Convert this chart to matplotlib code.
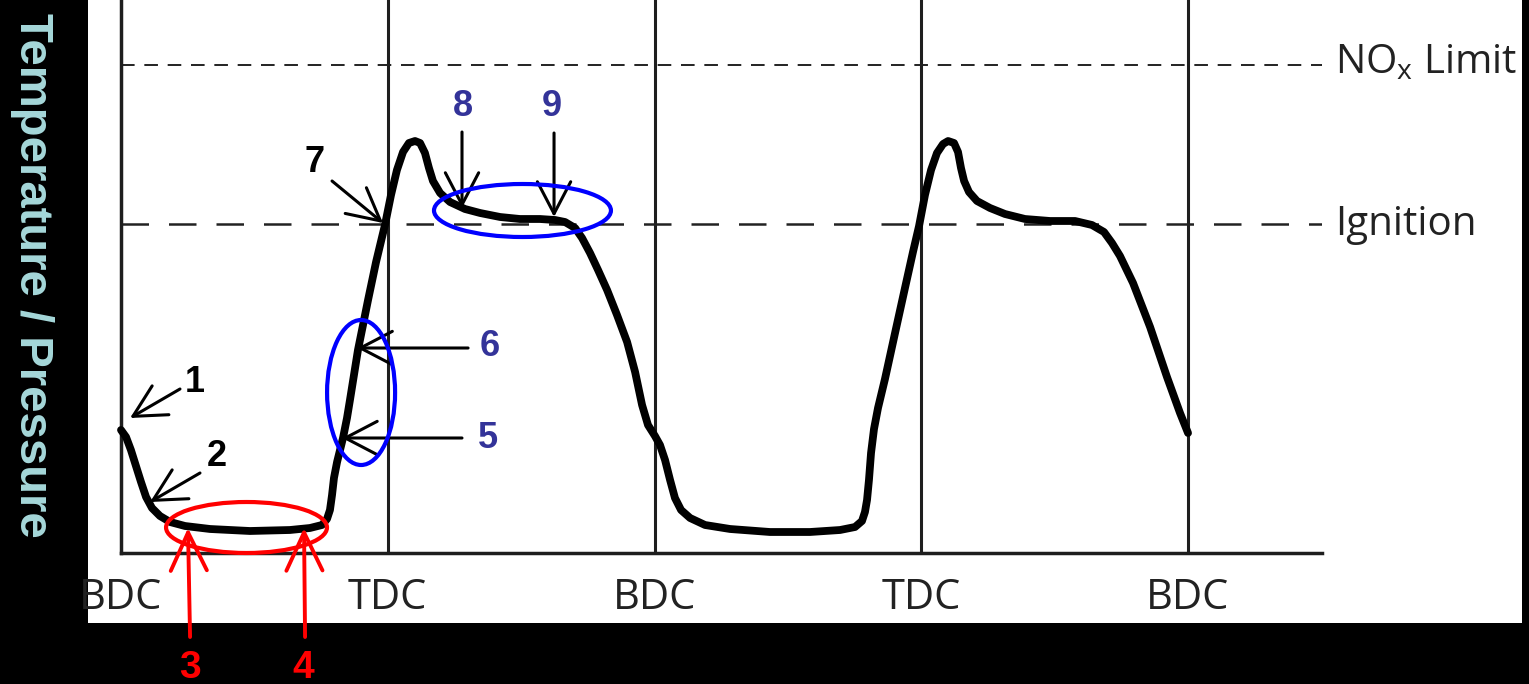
import matplotlib.pyplot as plt
from matplotlib.patches import Ellipse, Rectangle

# crank angle (deg, 0 = first BDC) and relative temperature / pressure
crank_deg = [0, 3.4, 6.7, 10.1, 13.5, 16.9, 20.9, 26.3, 33.1, 43.2, 60.1, 87.0, 114.0, 127.5,
             135.6, 139.0, 141.0, 142.4, 143.7, 145.8, 147.8, 149.8, 152.5, 154.5, 157.2, 159.9,
             163.3, 166.7, 172.1, 178.1, 182.2, 186.2, 190.3, 194.3, 198.4, 201.8, 205.1, 207.8,
             210.5, 215.3, 222.0, 232.1, 242.3, 255.8, 269.2, 282.7, 292.9, 299.6, 306.4, 311.1,
             316.5, 321.9, 328.0, 334.7, 341.5, 346.9, 351.6, 355.6, 360.3, 363.7, 367.1, 370.5,
             373.8, 377.9, 384.0, 394.1, 411.0, 437.9, 464.9, 485.2, 495.3, 500.0, 502.0, 503.4,
             504.7, 506.1, 508.1, 510.8, 515.5, 522.3, 529.0, 534.4, 538.5, 542.5, 546.6, 550.6,
             554.7, 558.1, 562.1, 564.8, 566.8, 568.9, 572.2, 577.6, 586.4, 596.5, 610.0, 626.9,
             643.8, 655.2, 663.3, 668.7, 674.1, 682.9, 694.4, 705.8, 714.6, 720.0]
temp = [123, 116, 103, 87, 71, 56, 45, 37, 31, 27, 24, 22, 23, 25,
        28, 34, 43, 58, 75, 91, 103, 115, 135, 153, 178, 203,
        228, 253, 291, 328, 358, 383, 401, 410, 412, 410, 400, 385,
        372, 360, 351, 344, 340, 336, 334, 334, 333, 331, 325, 315,
        300, 283, 263, 238, 211, 181, 148, 128, 117, 108, 93, 73,
        55, 43, 35, 28, 24, 21, 21, 23, 26, 32, 41, 53,
        73, 100, 124, 145, 174, 220, 265, 301, 327, 358, 383, 400,
        409, 412, 410, 401, 385, 372, 361, 352, 345, 339, 334, 332,
        332, 328, 321, 310, 297, 270, 226, 176, 140, 120]

dead_centres = [0, 180, 360, 540, 720]
dc_labels = ['BDC', 'TDC', 'BDC', 'TDC', 'BDC']
ignition = 329
nox_limit = 488

fig = plt.figure(figsize=(15.29, 6.84), dpi=100, facecolor='black')
fig.add_artist(Rectangle((88 / 1529, 61 / 684), 1434 / 1529, 623 / 684,
                         transform=fig.transFigure, facecolor='white',
                         edgecolor='none', zorder=-1))

ax = fig.add_axes([121 / 1529, 131 / 684, 1201 / 1529, 553 / 684])
ax.set_facecolor('none')
ax.set_xlim(0, 810.4)
ax.set_ylim(0, 553)
ax.spines[['top', 'right']].set_visible(False)
for s in ['left', 'bottom']:
    ax.spines[s].set_linewidth(2.5)
    ax.spines[s].set_color('#1e1e1e')
ax.set_yticks([])
ax.set_xticks(dead_centres, dc_labels, fontsize=30, fontfamily='Open Sans', color='#222222')
ax.tick_params(axis='x', length=0, pad=17)

for x in dead_centres[1:]:
    ax.axvline(x, color='#1e1e1e', lw=2.2, zorder=1)

ax.axhline(nox_limit, color='#222222', lw=1.4, dashes=(7, 5), zorder=1)
ax.axhline(ignition, color='#222222', lw=1.8, dashes=(11, 8), zorder=1)
ax.text(819, nox_limit - 8, 'NO$_\\mathregular{x}$ Limit', fontsize=29, family='Open Sans',
        va='baseline', ha='left', color='#222222')
ax.text(819, ignition - 11, 'Ignition', fontsize=29, family='Open Sans',
        va='baseline', ha='left', color='#222222')

ax.plot(crank_deg, temp, color='black', lw=5.6, solid_joinstyle='round',
        solid_capstyle='round', clip_on=False, zorder=3)

# annotation markup
ax.add_patch(Ellipse((84.7, 25.5), 108.6, 51, fill=False, ec='red', lw=3, clip_on=False, zorder=4))
ax.add_patch(Ellipse((162.0, 160.5), 45.9, 145, fill=False, ec='#0000ff', lw=3, clip_on=False, zorder=4))
ax.add_patch(Ellipse((270.9, 342.5), 119.4, 53, fill=False, ec='#0000ff', lw=3, clip_on=False, zorder=4))


def arrow(tip, tail, color='black', lw=2.2, hl=1.15, hw=0.6):
    ax.annotate('', xy=tip, xytext=tail, annotation_clip=False,
                arrowprops=dict(arrowstyle=f'->,head_length={hl},head_width={hw}',
                                color=color, lw=lw, shrinkA=0, shrinkB=0,
                                mutation_scale=20))


def label(xy, s, color, size=26):
    ax.text(xy[0], xy[1], s, color=color, fontsize=size, fontweight='bold',
            family='Liberation Sans', ha='center', va='center', clip_on=False)


navy = '#333399'
arrow((6.1, 135), (39.8, 164))
label((49.9, 171), '1', 'black')
arrow((19.6, 51), (53.3, 80))
label((64.8, 96), '2', 'black')
arrow((45.2, 25), (46.6, -84), color='red', lw=2.8, hl=1.37, hw=0.65)
label((46.6, -115), '3', 'red', 28)
arrow((123.5, 25), (124.2, -84), color='red', lw=2.8, hl=1.37, hw=0.65)
label((122.8, -115), '4', 'red', 28)
arrow((149.1, 115), (230.1, 115))
label((247.7, 115), '5', navy)
arrow((159.3, 205), (234.2, 205))
label((249.0, 206), '6', navy)
arrow((176.8, 330), (142.4, 372))
label((130.9, 391), '7', 'black')
arrow((230.1, 345), (230.1, 421))
label((230.8, 446), '8', navy)
arrow((292.2, 336), (292.2, 420))
label((290.8, 446), '9', navy)

fig.text(32 / 1529, 1 - 275 / 684, 'Temperature / Pressure', rotation=270,
         ha='center', va='center', fontsize=34, fontweight='bold',
         family='Liberation Sans', color='#a6d8da')

fig.savefig('out.png', dpi=100, facecolor='black')
